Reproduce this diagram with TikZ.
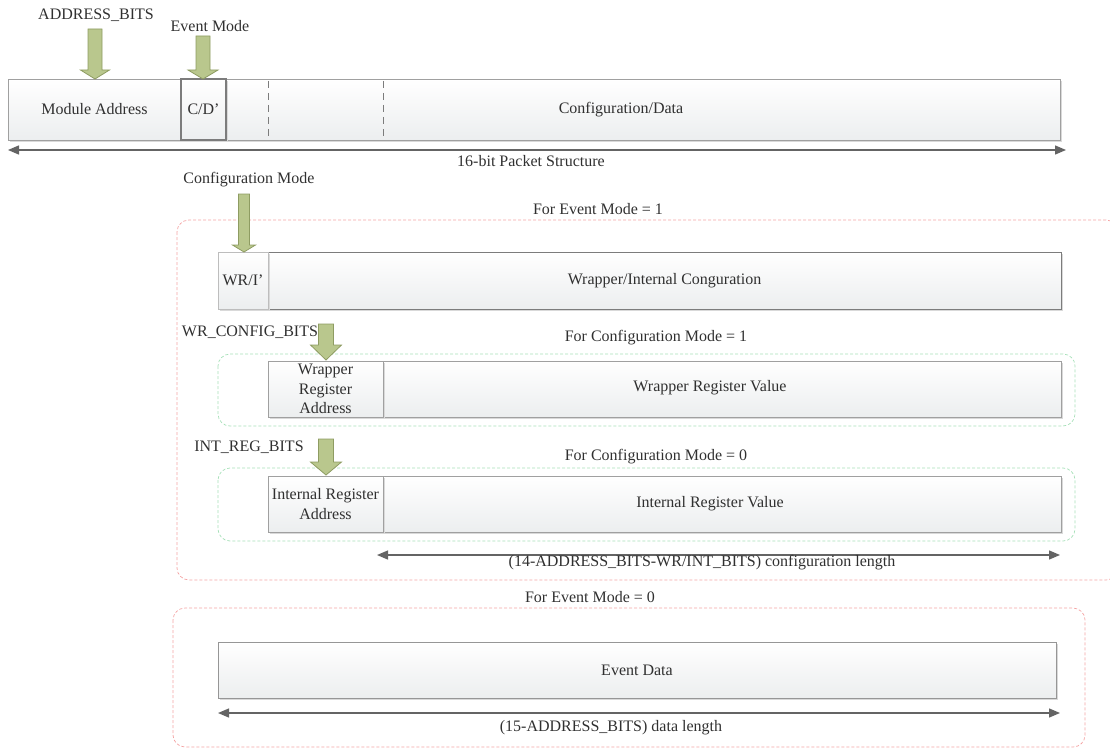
\documentclass[tikz,border=0pt]{standalone}
\usepackage{fontspec}
\setmainfont{Liberation Serif}
\usetikzlibrary{arrows.meta,shadows}
\definecolor{txt}{HTML}{303030}
\definecolor{boxline}{HTML}{A0A0A0}
\definecolor{darkline}{HTML}{7C7C7C}
\definecolor{afill}{HTML}{B9C78D}
\definecolor{aline}{HTML}{8E9C62}
\definecolor{redd}{HTML}{F4A3A3}
\definecolor{grnd}{HTML}{A6E0B8}
\definecolor{arr}{HTML}{646464}
\definecolor{boxbot}{HTML}{ECEEEF}
\tikzset{
 txtfont/.style={font=\fontsize{16}{19.5}\selectfont},
 box/.style={draw=boxline, line width=0.9pt, top color=white, bottom color=boxbot,
   inner sep=0pt, outer sep=0pt, anchor=north west, text=txt, txtfont, align=center,
   drop shadow={shadow xshift=2pt,shadow yshift=-2pt,fill=black!15,opacity=1}},
 darkbox/.style={box, draw=darkline, line width=1.1pt},
 lbl/.style={text=txt, txtfont, inner sep=0pt, align=center},
 redframe/.style={draw=redd, dash pattern=on 3pt off 2pt, line width=0.7pt, rounded corners=12pt},
 grnframe/.style={draw=grnd, dash pattern=on 3pt off 2pt, line width=0.7pt, rounded corners=12pt},
 dim/.style={draw=arr, line width=1.3pt, {Triangle[length=11pt,width=9pt]}-{Triangle[length=11pt,width=9pt]}},
 garrowst/.style={fill=afill, draw=aline, line width=0.8pt},
 vdash/.style={draw=darkline, line width=0.9pt, dash pattern=on 7pt off 5pt}
}
% cx, top, bottom, head start, shaft half width, head half width
\newcommand\greenarrow[6]{%
  \filldraw[garrowst] ({#1-#5},#2) -- ({#1+#5},#2) -- ({#1+#5},#4) -- ({#1+#6},#4)
    -- (#1,#3) -- ({#1-#6},#4) -- ({#1-#5},#4) -- cycle;}
\begin{document}
\begin{tikzpicture}[x=1pt,y=-1pt]
\useasboundingbox (0,0) rectangle (1110,749);
\clip (0,0) rectangle (1110,749);

% ---- top packet ----
\node[box, minimum width=1052pt, minimum height=61pt] (bar) at (8,79) {};
\node[box, minimum width=173pt, minimum height=61pt] (modaddr) at (8,79) {Module Address};
\node[darkbox, minimum width=45pt, minimum height=61pt] (cd) at (181,79) {C/D’};
\draw[vdash] (268,81) -- (268,138);
\draw[vdash] (383,81) -- (383,138);
\node[lbl] (cfgdata) at (621,110) {Configuration/Data};

\node[lbl] (addrbits) at (96,15) {ADDRESS\_BITS};
\node[lbl] (evmode) at (210,26) {Event Mode};
\greenarrow{95}{29}{79}{70}{7}{14.5}
\greenarrow{203}{36}{79}{70}{7}{15}

\coordinate (p1l) at (8,150);
\coordinate (p1r) at (1066,150);
\draw[dim] (p1l) -- (p1r);
\node[lbl] (pkt) at (531,161) {16-bit Packet Structure};

% ---- event mode = 1 ----
\node[lbl] (cfgmode) at (249,180) {Configuration Mode};
\draw[redframe] (177,220) rectangle (1118,580);
\node[lbl] (ev1) at (598,209) {For Event Mode = 1};

\node[box, minimum width=793pt, minimum height=57pt, draw=darkline] (wi) at (268,252) {Wrapper/Internal Conguration};
\node[box, minimum width=50pt, minimum height=57pt, draw=boxline!70] (wri) at (218,252) {WR/I’};
\greenarrow{244}{194}{252}{245}{5.5}{11.5}

\node[lbl] (wrcfg) at (250,332) {WR\_CONFIG\_BITS};
\node[lbl] (cm1) at (656,338) {For Configuration Mode = 1};
\draw[grnframe] (218,354) rectangle (1075,426);
\node[box, minimum width=678pt, minimum height=56pt] (wrval) at (383,361) {};
\node[lbl] at (710,388) {Wrapper Register Value};
\node[box, minimum width=115pt, minimum height=56pt] (wraddr) at (268,361) {Wrapper\\Register\\Address};
\greenarrow{326}{324}{360}{345}{7.5}{15.5}

\node[lbl] (intreg) at (249,447) {INT\_REG\_BITS};
\node[lbl] (cm0) at (656,457) {For Configuration Mode = 0};
\draw[grnframe] (218,468) rectangle (1075,541);
\node[box, minimum width=678pt, minimum height=56pt] (intval) at (383,476) {};
\node[lbl] at (710,504) {Internal Register Value};
\node[box, minimum width=115pt, minimum height=56pt] (intaddr) at (268,476) {Internal Register\\Address};
\greenarrow{326}{439}{475}{462}{7.5}{15.5}

\coordinate (p2l) at (377,555);
\coordinate (p2r) at (1060,555);
\draw[dim] (p2l) -- (p2r);
\node[lbl] (cfglen) at (702,563) {(14-ADDRESS\_BITS-WR/INT\_BITS) configuration length};

% ---- event mode = 0 ----
\node[lbl] (ev0) at (590,597) {For Event Mode = 0};
\draw[redframe] (173,608) rectangle (1085,747);
\node[box, minimum width=838pt, minimum height=56pt, draw=darkline!80] (evdata) at (218,642) {Event Data};
\coordinate (p3l) at (218,713);
\coordinate (p3r) at (1060,713);
\draw[dim] (p3l) -- (p3r);
\node[lbl] (datalen) at (611,728) {(15-ADDRESS\_BITS) data length};
\end{tikzpicture}
\end{document}
